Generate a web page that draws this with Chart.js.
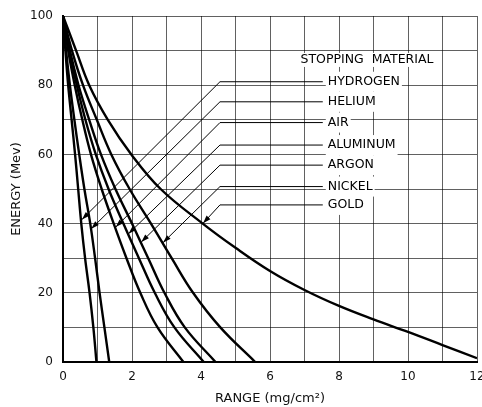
<!DOCTYPE html>
<html>
<head>
<meta charset="utf-8">
<script src="https://cdn.jsdelivr.net/npm/chart.js@4/dist/chart.umd.min.js"></script>
<style>
  html, body { margin: 0; padding: 0; background: #fff; }
  #wrap { width: 482px; height: 407px; }
</style>
</head>
<body>
<div id="wrap"><canvas id="rangeChart" width="482" height="407"></canvas></div>
<script>
// Energy levels (Mev) shared by the first six curves
const energyLevels = [100, 90, 80, 70, 60, 50, 40, 30, 20, 10, 0];

// Range (mg/cm2) at each energy level
const hydrogenRange = [0, 0.07, 0.15, 0.25, 0.35, 0.44, 0.53, 0.64, 0.77, 0.88, 0.97];
const heliumRange   = [0, 0.09, 0.20, 0.33, 0.47, 0.62, 0.79, 0.93, 1.06, 1.20, 1.34];
const airRange      = [0, 0.15, 0.34, 0.56, 0.81, 1.12, 1.47, 1.84, 2.24, 2.74, 3.49];
const aluminumRange = [0, 0.18, 0.40, 0.65, 0.95, 1.32, 1.75, 2.20, 2.66, 3.23, 4.08];
const argonRange    = [0, 0.20, 0.45, 0.76, 1.10, 1.52, 2.00, 2.47, 2.94, 3.53, 4.42];
const nickelRange   = [0, 0.26, 0.58, 0.98, 1.40, 1.93, 2.55, 3.15, 3.77, 4.56, 5.57];

// Gold runs off to the right edge, so it has its own points
const goldRange  = [0, 0.38, 0.76, 1.30, 1.98, 2.83, 4.05, 5, 6, 7, 8, 9, 10, 11, 12];
const goldEnergy = [100, 90, 80, 70, 60, 50, 40, 33.0, 26.3, 20.8, 16.2, 12.3, 8.7, 4.9, 1.1];

// Legend ("STOPPING MATERIAL") rows and the curve point each arrow lands on
const materialNames = ['HYDROGEN', 'HELIUM', 'AIR', 'ALUMINUM', 'ARGON', 'NICKEL', 'GOLD'];
const rowEnergy  = [81.0, 75.2, 69.2, 62.7, 56.9, 50.7, 45.4];
const tipRange   = [0.55, 0.82, 1.53, 1.90, 2.27, 2.90, 4.06];
const tipEnergy  = [41.2, 38.5, 39.0, 37.1, 34.7, 34.5, 40.1];
const bendRange  = 4.55;
const rowEndRange = 7.53;
const legendTitle = 'STOPPING  MATERIAL';
const legendTitlePos = { x: 8.81, y: 87.3 };

const FONT = '"DejaVu Sans", "Liberation Sans", sans-serif';

function toPoints(xs, ys) {
    return xs.map((v, i) => ({ x: v, y: ys[i] }));
}

const curves = [hydrogenRange, heliumRange, airRange, aluminumRange, argonRange, nickelRange]
    .map((r, i) => ({
        label: materialNames[i],
        data: toPoints(r, energyLevels)
    }));
curves.push({ label: 'GOLD', data: toPoints(goldRange, goldEnergy) });

curves.forEach(ds => {
    ds.borderColor = '#000';
    ds.borderWidth = 2.4;
    ds.pointRadius = 0;
    ds.fill = false;
    ds.tension = 0.4;
});

// Leader lines, arrows and the material names
const labelPlugin = {
    id: 'stoppingLabels',
    beforeDatasetsDraw(chart) {
        const { ctx, scales: { x, y } } = chart;
        ctx.save();
        ctx.fillStyle = '#fff';
        ctx.font = '12.5px ' + FONT;
        const textLeft = x.getPixelForValue(rowEndRange) + 3;
        materialNames.forEach((name, i) => {
            const py = y.getPixelForValue(rowEnergy[i]);
            const w = ctx.measureText(name).width;
            ctx.fillRect(textLeft, py - 10, w + 4, 20);
        });
        const tw = ctx.measureText(legendTitle).width;
        const tx = x.getPixelForValue(legendTitlePos.x);
        const ty = y.getPixelForValue(legendTitlePos.y);
        ctx.fillRect(tx - tw / 2 - 2, ty - 7, tw + 4, 14);
        ctx.restore();
    },
    afterDatasetsDraw(chart) {
        const { ctx, scales: { x, y } } = chart;
        ctx.save();
        ctx.strokeStyle = '#000';
        ctx.fillStyle = '#000';
        ctx.lineWidth = 1;
        const endX = x.getPixelForValue(rowEndRange);
        const bendX = x.getPixelForValue(bendRange);
        materialNames.forEach((name, i) => {
            const py = y.getPixelForValue(rowEnergy[i]);
            const tx = x.getPixelForValue(tipRange[i]);
            const ty = y.getPixelForValue(tipEnergy[i]);
            ctx.beginPath();
            ctx.moveTo(endX, py);
            ctx.lineTo(bendX, py);
            ctx.lineTo(tx, ty);
            ctx.stroke();
            // arrow head
            const ang = Math.atan2(ty - py, tx - bendX);
            const len = 8, half = 2.6;
            const bx = tx - Math.cos(ang) * len, by = ty - Math.sin(ang) * len;
            ctx.beginPath();
            ctx.moveTo(tx, ty);
            ctx.lineTo(bx - Math.sin(ang) * half, by + Math.cos(ang) * half);
            ctx.lineTo(bx + Math.sin(ang) * half, by - Math.cos(ang) * half);
            ctx.closePath();
            ctx.fill();

            ctx.font = '12.5px ' + FONT;
            ctx.textAlign = 'left';
            ctx.textBaseline = 'middle';
            ctx.fillText(name, endX + 5, py);
        });
        ctx.textAlign = 'center';
        ctx.textBaseline = 'middle';
        ctx.fillText(legendTitle, x.getPixelForValue(legendTitlePos.x), y.getPixelForValue(legendTitlePos.y));
        ctx.restore();
    }
};

const ctx = document.getElementById('rangeChart').getContext('2d');
new Chart(ctx, {
    type: 'line',
    data: { datasets: curves },
    options: {
        responsive: false,
        animation: false,
        layout: { padding: { top: 16, right: 5, left: 0, bottom: 0 } },
        plugins: {
            legend: { display: false },
            tooltip: { enabled: false }
        },
        scales: {
            x: {
                type: 'linear',
                min: 0,
                max: 12,
                ticks: {
                    stepSize: 1,
                    padding: 8,
                    color: '#111',
                    font: { family: FONT, size: 12 },
                    callback: v => (v % 2 === 0 ? v : '')
                },
                grid: { color: 'rgba(0,0,0,0.62)', lineWidth: 1, drawTicks: false },
                border: { color: '#000', width: 2 },
                title: {
                    display: true,
                    text: 'RANGE (mg/cm²)',
                    color: '#111',
                    font: { family: FONT, size: 13 },
                    padding: { top: 0, bottom: 1 }
                },
                afterFit(scale) {
                    scale.height = 45;
                    scale.paddingLeft = 0;
                    scale.paddingRight = 0;
                }
            },
            y: {
                min: 0,
                max: 100,
                ticks: {
                    stepSize: 10,
                    padding: 10,
                    color: '#111',
                    font: { family: FONT, size: 12 },
                    callback: v => (v % 20 === 0 ? v : '')
                },
                grid: { color: 'rgba(0,0,0,0.62)', lineWidth: 1, drawTicks: false },
                border: { color: '#000', width: 2 },
                title: {
                    display: true,
                    text: 'ENERGY (Mev)',
                    color: '#111',
                    font: { family: FONT, size: 13 },
                    padding: { top: 9, bottom: 0 }
                },
                afterFit(scale) {
                    scale.width = 63;
                    scale.paddingTop = 0;
                    scale.paddingBottom = 0;
                }
            }
        }
    },
    plugins: [labelPlugin]
});
</script>
</body>
</html>
